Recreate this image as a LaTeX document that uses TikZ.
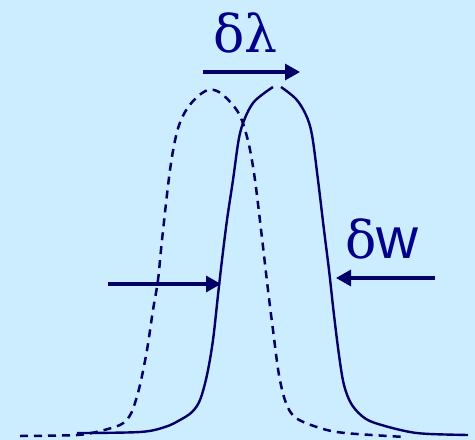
\documentclass[tikz,border=0pt]{standalone}
\usepackage{fontspec}
\setmainfont{Liberation Serif}
\newfontfamily\serifgreek{DejaVu Serif}
\newfontfamily\sansw{Liberation Sans}
\usetikzlibrary{arrows.meta}
\definecolor{bgblue}{HTML}{CCECFF}
\definecolor{navy}{HTML}{000066}
\definecolor{textnavy}{HTML}{000088}
\tikzset{
  curve/.style={draw=navy, line width=2.4pt, smooth, tension=0.55, line join=round},
  dashcurve/.style={curve, line width=2.5pt, dash pattern=on 8pt off 6pt},
  shiftarrow/.style={draw=navy, line width=3.2pt, -{Triangle[length=15pt,width=16pt]}},
  biglabel/.style={text=textnavy, inner sep=0pt, anchor=base, font=\serifgreek\fontsize{52}{52}\selectfont}
}
\begin{document}
\begin{tikzpicture}[x=1pt,y=-1pt]
\fill[bgblue] (0,0) rectangle (475,440);
\useasboundingbox (0,0) rectangle (475,440);
% dashed (shifted) line
\draw[dashcurve] plot coordinates {(20,436) (77,435) (100,431) (120,425) (129,417) (134,406) (140,385) (147,350) (153,310) (158,280) (162,240) (170,170) (177,132) (185,112) (196,98) (208,90) (219,92) (232,104) (241,118) (249,145) (255,180) (262,238) (268,290) (273,330) (279,375) (286,403) (296,418) (320,428) (345,433) (405,437)};
% solid line, left half
\draw[curve] plot coordinates {(77,433) (140,432) (165,427) (180,420) (192,412) (200,400) (207,375) (213,340) (218,295) (222,260) (227,220) (233,180) (239,138) (245,118) (253,103) (263,94) (273,87)};
% solid line, right half
\draw[curve] plot coordinates {(281,87) (296,99) (306,115) (312,135) (318,180) (324,230) (329,270) (334,315) (339,355) (344,385) (352,405) (366,419) (385,426) (410,432) (430,434) (468,435)};
% arrows
\coordinate (dlA) at (203,72);
\coordinate (dlB) at (300,72);
\coordinate (lA) at (108,284);
\coordinate (lB) at (221,284);
\coordinate (rA) at (435,278);
\coordinate (rB) at (336,278);
\draw[shiftarrow] (dlA) -- (dlB);
\draw[shiftarrow] (lA) -- (lB);
\draw[shiftarrow] (rA) -- (rB);
% labels
\node[biglabel] (dlabel) at (245.5,52) {δλ};
\node[biglabel] (wlabel) at (382,258) {δ{\sansw\fontsize{58}{58}\selectfont w}};
\end{tikzpicture}
\end{document}
